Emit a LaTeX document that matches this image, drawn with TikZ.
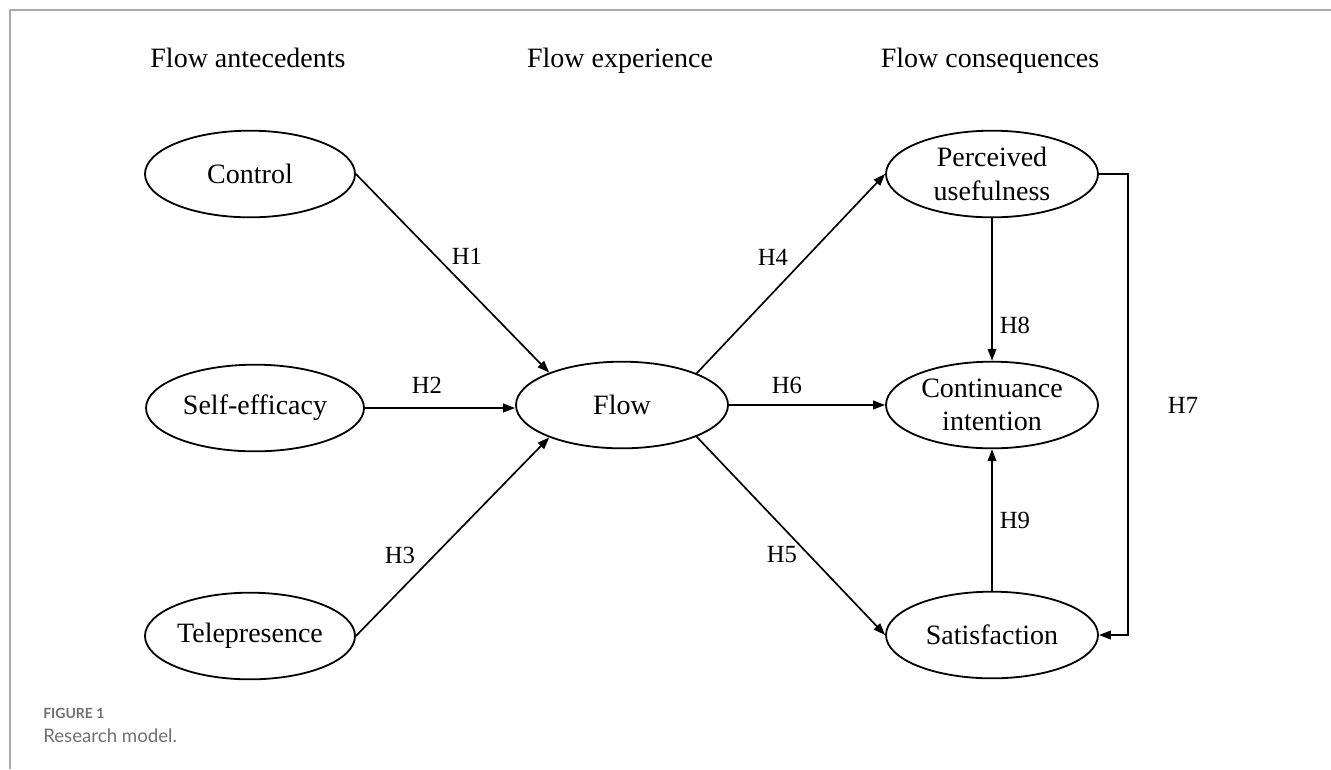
\documentclass[tikz,border=0pt]{standalone}
\usepackage{fontspec}
\setmainfont{Liberation Serif}
\newfontfamily\capfont{Lato}
\usetikzlibrary{shapes.geometric,arrows.meta}
\definecolor{framegray}{HTML}{AAAAAA}
\definecolor{capgray}{HTML}{707070}
\tikzset{
  construct/.style={ellipse,draw,line width=1.35pt,minimum width=157.5pt,minimum height=65pt,inner sep=0pt,align=center,font=\fontsize{21}{25}\selectfont},
  header/.style={anchor=base,inner sep=0pt,font=\fontsize{21}{25}\selectfont},
  hlabel/.style={inner sep=0pt,font=\fontsize{18.5}{22}\selectfont},
  arr/.style={line width=1.25pt,-{Triangle[length=9pt,width=6.5pt]}},
}
\begin{document}
\begin{tikzpicture}[x=0.75pt,y=-0.75pt]
\useasboundingbox (0,0) rectangle (1331,769);
% frame
\coordinate (ftl) at (9.5,9.5);
\coordinate (ftr) at (1331,9.5);
\coordinate (fbl) at (9.5,769);
\draw[framegray,line width=1.5pt] (ftr) -- (ftl) -- (fbl);
% headers
\node[header] (hA) at (248,67) {Flow antecedents};
\node[header] (hE) at (620,67) {Flow experience};
\node[header] (hC) at (990,67) {Flow consequences};
% constructs
\node[construct] (ctrl) at (250,174) {Control};
\node[construct,minimum width=163.5pt] (se) at (255,408) {Self-efficacy};
\node[construct] (tele) at (250,636) {Telepresence};
\node[construct,minimum width=159pt] (flow) at (622,405) {Flow};
\node[construct,minimum width=159pt] (pu) at (992,174) {Perceived\\usefulness};
\node[construct,minimum width=159pt] (ci) at (992,405) {Continuance\\intention};
\node[construct,minimum width=159pt] (sat) at (992,635) {Satisfaction};
% connectors
\draw[arr] (ctrl.east) -- (flow.156);
\draw[arr] (se.east) -- (se.east -| flow.west);
\draw[arr] (tele.east) -- (flow.204);
\draw[arr] (flow.23) -- (pu.west);
\draw[arr] (flow.east) -- (ci.west);
\draw[arr] (flow.-23) -- (sat.west);
\draw[arr] (pu.south) -- (ci.north);
\draw[arr] (sat.north) -- (ci.south);
\coordinate (h7) at (1128,405);
\draw[arr] (pu.east) -| (h7) |- (sat.east);
% labels
\node[hlabel] (l1) at (467,256) {H1};
\node[hlabel] (l2) at (427,385) {H2};
\node[hlabel] (l3) at (400,555) {H3};
\node[hlabel] (l4) at (773,257) {H4};
\node[hlabel] (l5) at (782,555) {H5};
\node[hlabel] (l6) at (787,385) {H6};
\node[hlabel] (l7) at (1183,405) {H7};
\node[hlabel] (l8) at (1015,325) {H8};
\node[hlabel] (l9) at (1015,520) {H9};
% caption
\node[anchor=base west,inner sep=0pt,text=capgray,font=\capfont\bfseries\fontsize{10.5}{12}\selectfont] (cap1) at (43,718) {FIGURE 1};
\node[anchor=base west,inner sep=0pt,text=capgray,font=\capfont\fontsize{14}{16}\selectfont] (cap2) at (43,742) {Research model.};
\end{tikzpicture}
\end{document}
